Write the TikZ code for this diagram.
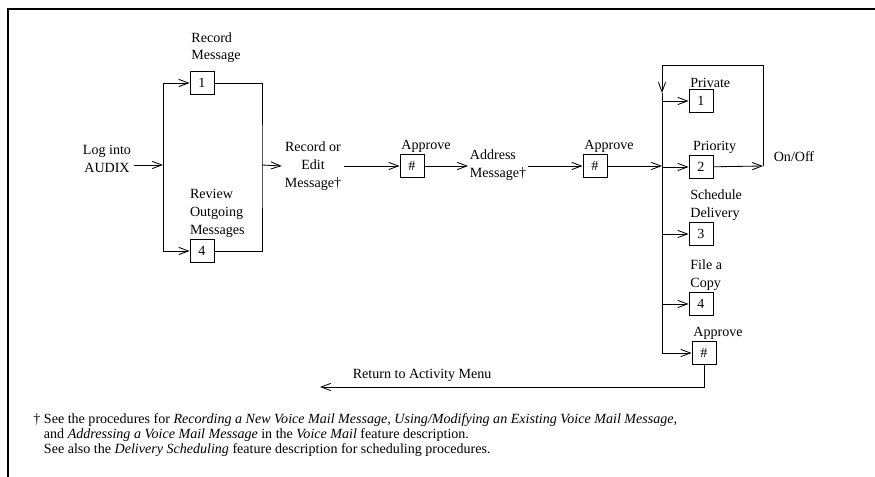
\documentclass[tikz,border=0pt]{standalone}
\usepackage{fontspec}
\setmainfont{Liberation Serif}
\usepackage{tikz}
\usetikzlibrary{arrows.meta, positioning, calc}

\begin{document}
\begin{tikzpicture}[x=0.25mm, y=-0.25mm, line width=0.6pt,
    arr/.style={-{Straight Barb[length=2.4mm, width=1.8mm]}},
    key/.style={draw, minimum width=6mm, minimum height=5.7mm, inner sep=0pt, font=\fontsize{10}{12}\selectfont},
    lbl/.style={align=left, inner sep=1pt, font=\fontsize{10}{12.6}\selectfont},
    txt/.style={align=center, inner sep=2pt, font=\fontsize{10}{12.6}\selectfont}]
    \useasboundingbox (0,0) rectangle (875,477);
    % frame (top and left only)
    \draw[line width=0.8pt] (875,9) -- (8,9) -- (8,477);
    % login and first choice
    \node[txt] (login) at (107,159) {Log into\\AUDIX};
    \coordinate (jL) at (163,165);
    \coordinate (jR) at (262,165);
    \node[key] (rec1) at (202,83) {1};
    \node[key] (rev4) at (202,251) {4};
    \node[lbl, anchor=south west, yshift=4.5pt] (lrec) at (rec1.north west) {Record\\Message};
    \node[lbl, anchor=south west, xshift=-1pt] (lrev) at (rev4.north west) {Review\\Outgoing\\Messages};
    \draw[arr] (login.east |- jL) -- (jL);
    \draw[arr] (jL) |- (rec1);
    \draw[arr] (jL) |- (rev4);
    \draw (rec1) -| (jR) -- (rev4 -| jR) -- (rev4);
    % record, approve, address, approve
    \node[txt] (edit) at (313,166) {Record or\\Edit\\Message†};
    \node[key] (ok1) at (412,166) {\#};
    \node[lbl, anchor=south west] (lok1) at (ok1.north west) {Approve};
    \node[lbl] (addr) at (498,165) {Address\\Message†};
    \node[key] (ok2) at (595,166) {\#};
    \node[lbl, anchor=south west] (lok2) at (ok2.north west) {Approve};
    \draw[arr] (jR) -- (edit.west);
    \draw[arr] (edit.east) -- (ok1);
    \draw[arr] (ok1) -- (addr.west |- ok1);
    \draw[arr] (addr.east |- ok2) -- (ok2);
    % options
    \coordinate (jM) at (662,166);
    \coordinate (jTop) at (662,65);
    \coordinate (jTip) at (662,93);
    \coordinate (jBot) at (662,353);
    \coordinate (jOn) at (763,166);
    \node[key] (prv) at (701,101) {1};
    \node[key] (pri) at (701,167) {2};
    \node[key] (sch) at (701,234) {3};
    \node[key] (fil) at (701,304) {4};
    \node[key] (ok3) at (704,353) {\#};
    \node[lbl, anchor=south west] (lprv) at (prv.north west) {Private};
    \node[lbl, anchor=south west, xshift=2pt] (lpri) at (pri.north west) {Priority};
    \node[lbl, anchor=south west] (lsch) at (sch.north west) {Schedule\\Delivery};
    \node[lbl, anchor=south west] (lfil) at (fil.north west) {File a\\Copy};
    \node[lbl, anchor=south west] (lok3) at (ok3.north west) {Approve};
    \node[lbl, anchor=west] (onoff) at (772,157) {On/Off};
    \draw[arr] (ok2) -- (jM);
    \draw (jTip) -- (jBot);
    \foreach \k in {prv, pri, sch, fil, ok3}
        \draw[arr] (jM |- \k) -- (\k);
    % priority toggle loop
    \draw[arr] (pri) -- (jOn);
    \draw[arr] (jOn) -- (jOn |- jTop) -- (jTop) -- (jTip);
    % back to the menu
    \coordinate (ret) at (320,387);
    \node[lbl, anchor=west] (lret) at (351,375) {Return to Activity Menu};
    \draw[arr] (ok3.south) |- (ret);
    % footnote
    \node[anchor=north west, align=left, inner sep=0pt, font=\fontsize{10}{10.8}\selectfont] (note) at (33,413)
        {† See the procedures for \emph{Recording a New Voice Mail Message, Using/Modifying an Existing Voice Mail Message,}\\
        \hphantom{†} and \emph{Addressing a Voice Mail Message} in the \emph{Voice Mail} feature description.\\
        \hphantom{†} See also the \emph{Delivery Scheduling} feature description for scheduling procedures.};
\end{tikzpicture}
\end{document}
